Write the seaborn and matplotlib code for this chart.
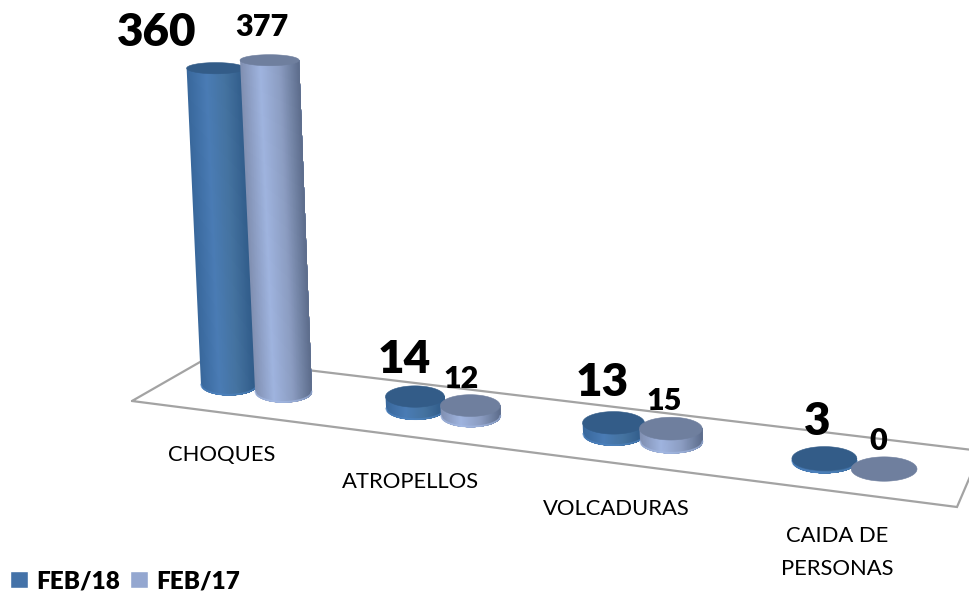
# Accidentes febrero 2018 vs febrero 2017, drawn as leaning 3D cylinders on a tilted floor.

import numpy as np
import pandas as pd
import matplotlib
matplotlib.use("Agg")
import matplotlib.pyplot as plt
import seaborn as sns

# Chart data
categories = ["CHOQUES", "ATROPELLOS", "VOLCADURAS", "CAIDA DE\nPERSONAS"]
feb18 = [360, 14, 13, 3]
feb17 = [377, 12, 15, 0]
periods = ["FEB/18", "FEB/17"]

df = pd.DataFrame({
    "categoria": categories * 2,
    "casos": feb18 + feb17,
    "periodo": [periods[0]] * 4 + [periods[1]] * 4,
})

# Colors
legend_colors = ["#4472a8", "#94a7d0"]
side_colors = [["#39689c", "#4a7cb5", "#44729f", "#2f5a88"],
               ["#8190b2", "#9fb4df", "#8c9dc2", "#5e6e8d"]]
top_colors = ["#335c88", "#6f7f9e"]
rim_colors = ["#4f86c4", "#a5bbe6"]
floor_color = "#a3a3a3"
text_color = "#000000"

W, H = 970, 599
PX_PER_CASE = 0.88
LEAN = -0.042          # cylinders lean left as they grow

sns.set_theme(style="white")
plt.rcParams["font.family"] = ["Lato", "DejaVu Sans"]

fig = plt.figure(figsize=(W / 100, H / 100), dpi=100)
ax = fig.add_axes([0, 0, 1, 1])

# Seaborn works out the bars, the value scale and the legend
sns.barplot(data=df, x="categoria", y="casos", hue="periodo", ax=ax,
            palette=legend_colors, saturation=1)
ax.set_ylim(0, H / PX_PER_CASE)
ax.set_axis_off()
sns.move_legend(ax, "lower left", bbox_to_anchor=(10 / W, 7 / H), ncols=2, frameon=False, title=None,
                prop={"family": "Lato", "weight": "heavy", "size": 17.5},
                handlelength=0.74, handleheight=0.74, handletextpad=0.32,
                columnspacing=0.44, borderaxespad=0, borderpad=0)
for t in ax.get_legend().get_texts():
    t.set_color(text_color)

# Overlay in image pixels for the projected drawing
canvas = fig.add_axes([0, 0, 1, 1])
canvas.set_xlim(0, W)
canvas.set_ylim(H, 0)
canvas.set_axis_off()

# Floor outline
floor_x = [132, 207, 981, 957, 132]
floor_y = [401, 358, 451, 507, 401]
canvas.plot(floor_x, floor_y, color=floor_color, lw=1.6, zorder=1, solid_joinstyle="miter")


def cylinder(cx, base_y, height, series):
    hw_base = 28 + 0.0075 * (cx - 229)
    hw_top = hw_base * (1 + height * 0.00012)
    ry_base = hw_base * 0.37
    ry_top = ry_base - height * 0.015
    top_x = cx + LEAN * height
    top_y = base_y - height

    # side, painted left to right with each slice running to the right edge so no seams show
    if height > 0.5:
        shades = sns.blend_palette(side_colors[series], n_colors=60)
        t = np.linspace(-1, 1, 61)
        arc = np.sqrt(1 - t ** 2)
        for k in range(60):
            bottom_x = cx + hw_base * t[k:]
            bottom_y = base_y + ry_base * arc[k:]
            xs = [top_x + hw_top * t[k], top_x + hw_top] + list(bottom_x[::-1])
            ys = [top_y, top_y] + list(bottom_y[::-1])
            canvas.fill(xs, ys, color=shades[k], lw=0, zorder=3 + series)
        # soft lit rim along the bottom edge
        canvas.plot(cx + hw_base * t, base_y + ry_base * arc - 0.6, color=rim_colors[series],
                    lw=1.3, alpha=0.6, zorder=3 + series)

    # top face
    a = np.linspace(0, 2 * np.pi, 90)
    canvas.fill(top_x + hw_top * np.cos(a), top_y + ry_top * np.sin(a),
                color=top_colors[series], lw=0.4, zorder=3 + series)


def label(x, y, text, size):
    canvas.text(x, y, text, fontsize=size, fontweight="heavy", color=text_color,
                ha="center", va="center", zorder=8)


# Offsets of the data labels from the top of each cylinder
label_sizes = [33, 22]
label_dx = [[-59, -11, -11, -7], [-8, -9, -7, -6]]
label_dy = [[-36, -37, -40, -37], [-33, -27, -28, -28]]

# Read the bars back from seaborn and project them onto the floor
for s, container in enumerate(ax.containers):
    for i, bar in enumerate(container):
        value = bar.get_height()
        height_px = ax.transData.transform((0, value))[1] - ax.transData.transform((0, 0))[1]
        bar.set_visible(False)

        base_x = 229 + 180.5 * i + 6 * i ** 2 + s * (54.5 + 2.2 * i)
        base_y = 385 + 0.128 * (base_x - 229)
        cylinder(base_x - s * 1.5 * (i > 0), base_y, height_px, s)
        label(base_x + LEAN * height_px + label_dx[s][i] - s * 1.5 * (i > 0), base_y - height_px + label_dy[s][i],
              f"{value:.0f}", label_sizes[s])

# Category labels in front of the floor
for i, name in enumerate(categories):
    canvas.text(222 + 181 * i + 8 * i ** 2, 445 + 27 * i, name, fontsize=15.8, color=text_color,
                ha="center", va="top", linespacing=1.8, zorder=8)

canvas.set_xlim(0, W)
canvas.set_ylim(H, 0)

plt.savefig("out.png", dpi=100)
plt.close()
